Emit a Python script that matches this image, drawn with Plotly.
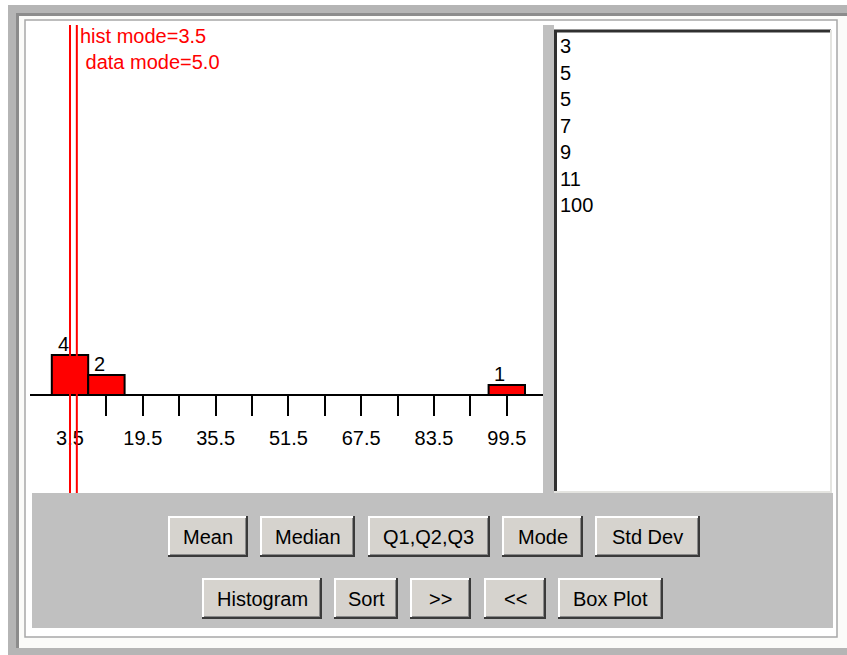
import plotly.graph_objects as go

# ---------------- data ----------------
data_values = [3, 5, 5, 7, 9, 11, 100]
bin_centers = [3.5, 11.5, 99.5]
bin_counts = [4, 2, 1]
bin_width = 8
tick_values = [3.5, 11.5, 19.5, 27.5, 35.5, 43.5, 51.5, 59.5, 67.5, 75.5, 83.5, 91.5, 99.5]
tick_labels = ["3.5", "", "19.5", "", "35.5", "", "51.5", "", "67.5", "", "83.5", "", "99.5"]
hist_mode = 3.5
data_mode = 5.0
buttons_row1 = ["Mean", "Median", "Q1,Q2,Q3", "Mode", "Std Dev"]
buttons_row2 = ["Histogram", "Sort", ">>", "<<", "Box Plot"]

# ---------------- geometry (pixels) ----------------
W, H = 847, 655
FONT = "Liberation Sans, Arial, sans-serif"


def X(p):
    return p / W


def Y(p):
    return 1 - p / H


PX0, PX1 = 30, 543
PY0, PY1 = 25, 493
AXIS_Y = 395
X_REF_PX, X_REF_VAL, PX_PER_UNIT = 70, 3.5, 4.55
PX_PER_COUNT = 10

xr = [X_REF_VAL - (X_REF_PX - PX0) / PX_PER_UNIT, X_REF_VAL + (PX1 - X_REF_PX) / PX_PER_UNIT]
yr = [-(PY1 - AXIS_Y) / PX_PER_COUNT, (AXIS_Y - PY0) / PX_PER_COUNT]

shapes = []


def rect(x0, y0, x1, y1, fill=None, line=None, lw=0, layer="below"):
    shapes.append(dict(type="rect", xref="paper", yref="paper",
                       x0=X(x0), x1=X(x1), y0=Y(y1), y1=Y(y0),
                       fillcolor=fill or "rgba(0,0,0,0)",
                       line=dict(color=line or "rgba(0,0,0,0)", width=lw),
                       layer=layer))


def seg(x0, y0, x1, y1, color, lw, layer="below"):
    shapes.append(dict(type="line", xref="paper", yref="paper",
                       x0=X(x0), x1=X(x1), y0=Y(y0), y1=Y(y1),
                       line=dict(color=color, width=lw), layer=layer))


# outer window frame
rect(8, 5, 847, 655, fill="#b5b5b5")
rect(16, 13, 847, 648, fill="#8c8c8c")
rect(19, 16, 847, 648, fill="#fbfbf9")
rect(25, 20, 837, 637, fill="#ffffff", line="#a8a8a8", lw=1.5)

# bottom gray button area and separator
rect(32, 493, 833, 628, fill="#c0c0c0")
rect(543, 25, 554, 493, fill="#c0c0c0")

# text panel (sunken)
rect(554, 30, 833, 493, fill="#ffffff")
seg(554, 31, 831, 31, "#303030", 3)
seg(555.5, 30, 555.5, 492, "#303030", 3)
seg(831, 30, 831, 492, "#e4e4e0", 2)
seg(554, 492, 832, 492, "#e4e4e0", 2)

# buttons
row1_pos = [(168, 248), (260, 355), (368, 490), (502, 583), (595, 700)]
row2_pos = [(202, 322), (334, 398), (410, 471), (484, 546), (558, 663)]
annotations = []


def button(x0, x1, y0, y1, label):
    rect(x0, y0, x1, y1, fill="#d6d3ce")
    seg(x0, y0 + 1, x1, y0 + 1, "#ffffff", 2)
    seg(x0 + 1, y0, x0 + 1, y1, "#ffffff", 2)
    seg(x0, y1 - 1, x1, y1 - 1, "#3a3a3a", 2)
    seg(x1 - 1, y0, x1 - 1, y1, "#3a3a3a", 2)
    seg(x0 + 2, y1 - 2.5, x1 - 2, y1 - 2.5, "#8a8a8a", 1)
    seg(x1 - 2.5, y0 + 2, x1 - 2.5, y1 - 2, "#8a8a8a", 1)
    txt = label.replace("&", "&amp;").replace("<", "&lt;").replace(">", "&gt;")
    annotations.append(dict(xref="paper", yref="paper", x=X((x0 + x1) / 2), y=Y((y0 + y1) / 2),
                            text=txt, showarrow=False, xanchor="center", yanchor="middle",
                            font=dict(family=FONT, size=20, color="#000000")))


for lab, (a, b) in zip(buttons_row1, row1_pos):
    button(a, b, 516, 557, lab)
for lab, (a, b) in zip(buttons_row2, row2_pos):
    button(a, b, 578, 619, lab)

# data list in text panel
for i, v in enumerate(data_values):
    annotations.append(dict(xref="paper", yref="paper", x=X(558), y=Y(46 + i * 26.5),
                            text=str(v), showarrow=False, xanchor="left", yanchor="middle",
                            font=dict(family=FONT, size=20, color="#000000")))

# count labels above bars
for c, n in zip(bin_centers, bin_counts):
    annotations.append(dict(xref="x", yref="y", x=c, y=n, text=str(n), showarrow=False,
                            xanchor="center", yanchor="middle", xshift=-7, yshift=11,
                            font=dict(family=FONT, size=20, color="#000000")))

# mode lines and labels
for m in (hist_mode, data_mode):
    shapes.append(dict(type="line", xref="x", yref="y domain", x0=m, x1=m, y0=0, y1=1,
                       line=dict(color="#ff0000", width=2), layer="above"))
annotations.append(dict(xref="x", yref="paper", x=hist_mode, y=Y(49),
                        text=f"hist mode={hist_mode}<br>&nbsp;data mode={data_mode}",
                        showarrow=False, xanchor="left", yanchor="middle", align="left", xshift=8,
                        font=dict(family=FONT, size=20, color="#ff0000")))

fig = go.Figure()
fig.add_trace(go.Bar(x=bin_centers, y=bin_counts, width=bin_width,
                     marker=dict(color="#ff0000", line=dict(color="#000000", width=2)),
                     hoverinfo="x+y", showlegend=False))

fig.update_layout(
    width=W, height=H, autosize=False,
    margin=dict(l=0, r=0, t=0, b=0, pad=0),
    paper_bgcolor="#ffffff", plot_bgcolor="rgba(0,0,0,0)",
    shapes=shapes, annotations=annotations,
    showlegend=False,
    xaxis=dict(domain=[X(PX0), X(PX1)], range=xr, anchor="free", position=Y(AXIS_Y),
               showline=True, linecolor="#000000", linewidth=2,
               ticks="outside", ticklen=20, tickwidth=2, tickcolor="#000000",
               tickvals=tick_values, ticktext=tick_labels, ticklabelstandoff=5,
               tickfont=dict(family=FONT, size=20, color="#000000"),
               showgrid=False, zeroline=False, fixedrange=True, automargin=False),
    yaxis=dict(domain=[Y(PY1), Y(PY0)], range=yr, visible=False, fixedrange=True),
)

fig.write_html("out.html", config={"displayModeBar": False},
               post_script="document.body.style.margin='0px';document.body.style.overflow='hidden';")
